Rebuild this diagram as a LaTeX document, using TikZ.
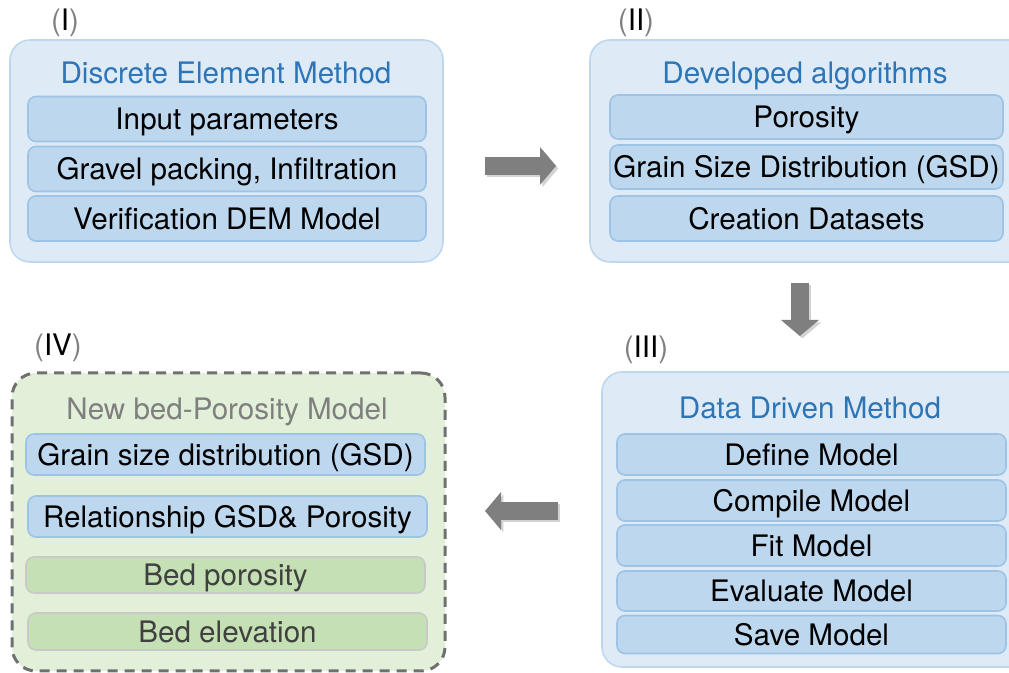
\documentclass[tikz,border=0pt]{standalone}
\usepackage{fontspec}
\setmainfont{TeX Gyre Heros}
\usetikzlibrary{arrows.meta}

\definecolor{outerfill}{HTML}{DEEBF7}
\definecolor{outerline}{HTML}{BDD7EE}
\definecolor{rowfill}{HTML}{BDD7EE}
\definecolor{rowline}{HTML}{9DC3E6}
\definecolor{titleblue}{HTML}{2E75B6}
\definecolor{greenfill}{HTML}{E2F0D9}
\definecolor{greenrow}{HTML}{C5E0B4}
\definecolor{greenline}{HTML}{C9C9C9}
\definecolor{dashgray}{HTML}{707070}
\definecolor{arrowgray}{HTML}{7F7F7F}
\definecolor{shadowgray}{HTML}{D3D3D3}

\tikzset{
  every node/.style={font=\fontsize{14.8}{17}\selectfont, text height=10.7pt, text depth=0pt, inner sep=0pt},
  outerbox/.style={draw=outerline, fill=outerfill, line width=0.8pt, rounded corners=10pt},
  rowbox/.style={draw=rowline, fill=rowfill, line width=0.8pt, rounded corners=4pt, minimum width=#1},
  greenbox/.style={draw=greenline, fill=greenrow, line width=0.8pt, rounded corners=4pt, text=black!75, minimum width=#1},
  boxtitle/.style={text=titleblue},
  steplabel/.style={text=black},
  bigarrow/.style={draw=arrowgray, line width=9pt, -{Triangle[length=8pt,width=18.5pt]}},
  arrowshadow/.style={draw=shadowgray, line width=9pt, -{Triangle[length=8pt,width=18.5pt]}}
}
\newcommand{\stepmark}[1]{{\color{gray}(}#1{\color{gray})}}

\begin{document}
\begin{tikzpicture}[x=0.5pt,y=-0.5pt]
  \clip (0,0) rectangle (1009,673);

  % (I) Discrete Element Method
  \node[outerbox, minimum width=216.5pt, minimum height=111pt] (dem) at (226.5,151) {};
  \node[steplabel] (labI) at (65,20) {\stepmark{I}};
  \node[boxtitle] (demtitle) at (226,73) {Discrete Element Method};
  \node[rowbox=199pt, minimum height=22.5pt] (input) at (227,119) {Input parameters};
  \node[rowbox=199pt, minimum height=22.5pt] (gravel) at (227,169) {Gravel packing, Infiltration};
  \node[rowbox=199pt, minimum height=22.5pt] (verif) at (227,218.5) {Verification DEM Model};

  % (II) Developed algorithms
  \node[outerbox, minimum width=220pt, minimum height=111pt] (alg) at (810,151) {};
  \node[steplabel] (labII) at (636,20) {\stepmark{II}};
  \node[boxtitle] (algtitle) at (805,73) {Developed algorithms};
  \node[rowbox=196.5pt, minimum height=22pt] (poro) at (806.5,117) {Porosity};
  \node[rowbox=196.5pt, minimum height=22pt] (gsd) at (806.5,167) {Grain Size Distribution (GSD)};
  \node[rowbox=196.5pt, minimum height=22.5pt] (data) at (806.5,218.5) {Creation Datasets};

  % (III) Data Driven Method
  \node[outerbox, minimum width=214pt, minimum height=147.5pt] (ddm) at (816,519.5) {};
  \node[steplabel] (labIII) at (646,347) {\stepmark{III}};
  \node[boxtitle] (ddmtitle) at (810,408) {Data Driven Method};
  \node[rowbox=194.5pt, minimum height=20.5pt] (define) at (811.5,454.5) {Define Model};
  \node[rowbox=194.5pt, minimum height=20.5pt] (compile) at (811.5,500.5) {Compile Model};
  \node[rowbox=194.5pt, minimum height=20.5pt] (fit) at (811.5,545.5) {Fit Model};
  \node[rowbox=194.5pt, minimum height=20pt] (eval) at (811.5,591) {Evaluate Model};
  \node[rowbox=194.5pt, minimum height=19pt] (save) at (811.5,634.5) {Save Model};

  % (IV) New bed-Porosity Model
  \node[draw=dashgray, fill=greenfill, line width=1.5pt, dash pattern=on 5pt off 3.5pt,
        rounded corners=12pt, minimum width=216.5pt, minimum height=149pt] (newmodel) at (228.5,522) {};
  \node[steplabel] (labIV) at (58,345) {\stepmark{IV}};
  \node[text=arrowgray] (newtitle) at (227,409) {New bed-Porosity Model};
  \node[rowbox=199.5pt, minimum height=20.5pt] (gsdrel) at (225.5,454.5) {Grain size distribution (GSD)};
  \node[rowbox=199.5pt, minimum height=20.5pt] (rel) at (227.5,516.5) {Relationship GSD\& Porosity};
  \node[greenbox=199.5pt, minimum height=18pt] (bedporo) at (225.5,575) {Bed porosity};
  \node[greenbox=199.5pt, minimum height=18.5pt] (bedelev) at (227.5,631.5) {Bed elevation};

  % arrows between the steps
  \coordinate (a1s) at (485,166);
  \coordinate (a1e) at (556,166);
  \coordinate (a2s) at (800,283);
  \coordinate (a2e) at (800,336);
  \coordinate (a3s) at (558,511);
  \coordinate (a3e) at (485,511);
  \draw[arrowshadow, transform canvas={shift={(1.2pt,-1.2pt)}}] (a1s) -- (a1e);
  \draw[arrowshadow, transform canvas={shift={(1.2pt,-1.2pt)}}] (a2s) -- (a2e);
  \draw[arrowshadow, transform canvas={shift={(1.2pt,-1.2pt)}}] (a3s) -- (a3e);
  \draw[bigarrow] (a1s) -- (a1e);
  \draw[bigarrow] (a2s) -- (a2e);
  \draw[bigarrow] (a3s) -- (a3e);
\end{tikzpicture}
\end{document}
